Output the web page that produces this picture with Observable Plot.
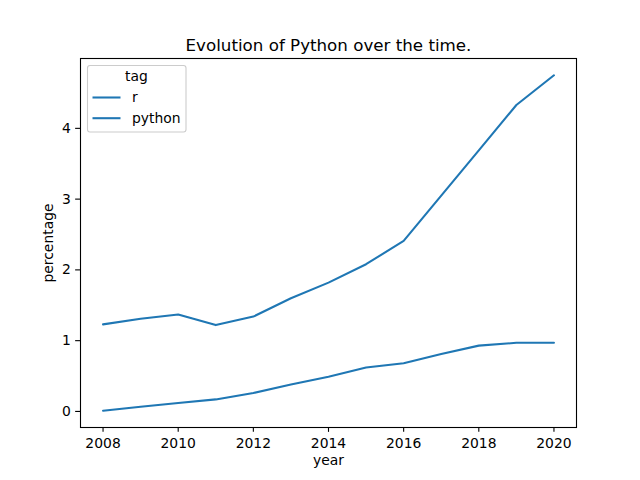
<!DOCTYPE html>
<html>
<head>
<meta charset="utf-8">
<script src="https://cdn.jsdelivr.net/npm/d3@7"></script>
<script src="https://cdn.jsdelivr.net/npm/@observablehq/plot@0.6"></script>
<style>
  html, body { margin: 0; padding: 0; background: #fff; overflow: hidden; }
  #wrap { position: relative; width: 640px; height: 480px; font-family: "DejaVu Sans", sans-serif; }
  #legend { position: absolute; left: 0; top: 0; pointer-events: none; background: transparent; }
</style>
</head>
<body>
<div id="wrap"></div>
<script>
const years = [2008, 2009, 2010, 2011, 2012, 2013, 2014, 2015, 2016, 2017, 2018, 2019, 2020];
const rValues = [0.01, 0.065, 0.12, 0.17, 0.26, 0.38, 0.49, 0.62, 0.68, 0.81, 0.93, 0.97, 0.97];
const pythonValues = [1.23, 1.31, 1.37, 1.22, 1.34, 1.60, 1.82, 2.08, 2.41, 3.05, 3.69, 4.33, 4.75];
const tags = ["r", "python"];
const xTicks = [2008, 2010, 2012, 2014, 2016, 2018, 2020];
const yTicks = [0, 1, 2, 3, 4];
const title = "Evolution of Python over the time.";
const xLabel = "year";
const yLabel = "percentage";
const legendTitle = "tag";

const xDomain = [2007.4, 2020.6];
const yDomain = [-0.227, 4.987];

const seriesValues = {r: rValues, python: pythonValues};
const rows = tags.flatMap(tag => years.map((year, i) => ({tag, year, value: seriesValues[tag][i]})));

const color = "#1f77b4";
const fontSize = 13.9;

const chart = Plot.plot({
  width: 640,
  height: 480,
  marginLeft: 80,
  marginRight: 64,
  marginTop: 58,
  marginBottom: 53,
  style: {fontFamily: "DejaVu Sans, sans-serif", fontSize: fontSize + "px", color: "black", background: "white"},
  x: {domain: xDomain},
  y: {domain: yDomain},
  marks: [
    Plot.line(rows, {x: "year", y: "value", z: "tag", stroke: color, strokeWidth: 2.08}),
    Plot.frame({stroke: "black", strokeWidth: 1.1, fill: "none"}),
    Plot.axisX({ticks: xTicks, tickFormat: d => String(d), tickSize: 4.86, tickPadding: 5.9, fontSize: fontSize, label: null, strokeWidth: 1.1}),
    Plot.axisY({ticks: yTicks, tickFormat: d => String(d), tickSize: 4.86, tickPadding: 4.86, fontSize: fontSize, label: null, strokeWidth: 1.1}),
    Plot.text([xLabel], {text: d => d, frameAnchor: "bottom", lineAnchor: "middle", dy: 33, fontSize: fontSize, fill: "black"}),
    Plot.text([yLabel], {text: d => d, frameAnchor: "left", lineAnchor: "middle", textAnchor: "middle", dx: -32, rotate: -90, fontSize: fontSize, fill: "black"}),
    Plot.text([title], {text: d => d, frameAnchor: "top", lineAnchor: "middle", dy: -13.3, fontSize: 16.7, fill: "black"})
  ]
});
document.getElementById("wrap").appendChild(chart);

// Legend overlay
const leg = d3.select("#wrap").append("svg")
  .attr("id", "legend").attr("width", 640).attr("height", 480)
  .style("font-family", "DejaVu Sans, sans-serif").style("font-size", fontSize + "px");
leg.append("rect").attr("x", 87.5).attr("y", 65.5).attr("width", 98.5).attr("height", 66.5)
  .attr("rx", 2.5).attr("fill", "white").attr("fill-opacity", 0.8).attr("stroke", "#cccccc").attr("stroke-width", 1.1);
leg.append("text").attr("x", 136.5).attr("y", 76.5).attr("dy", "0.32em").attr("text-anchor", "middle").text(legendTitle);
tags.forEach((tag, i) => {
  const y = 97.5 + i * 20.7;
  leg.append("line").attr("x1", 92.5).attr("x2", 120.5).attr("y1", y).attr("y2", y)
    .attr("stroke", color).attr("stroke-width", 2.08);
  leg.append("text").attr("x", 132).attr("y", y).attr("dy", "0.32em").text(tag);
});
</script>
</body>
</html>
